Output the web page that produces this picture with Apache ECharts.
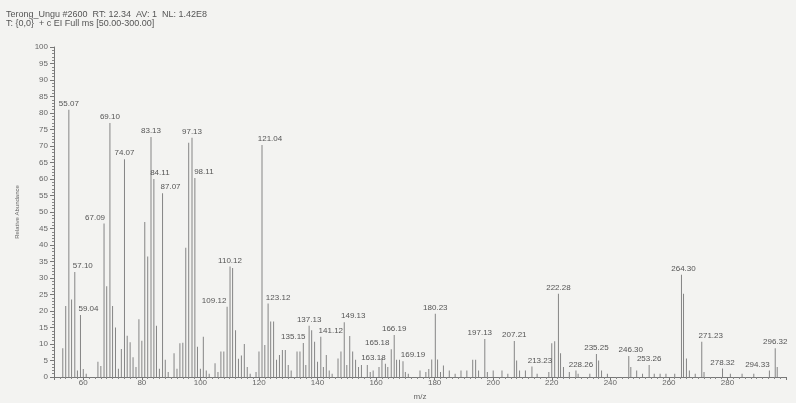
<!DOCTYPE html>
<html>
<head>
<meta charset="utf-8">
<script src="https://cdn.jsdelivr.net/npm/echarts@6/dist/echarts.min.js"></script>
<style>
    html, body { margin: 0; padding: 0; background: #f3f3f1; }
    #spec { width: 796px; height: 403px; }
</style>
</head>
<body>
<div id="spec"></div>
<script>
// m/z of every peak and its relative abundance (%)
var peakMz = [
    53, 54, 55.07, 56, 57.10, 58, 59.04, 60, 61, 65, 66, 67.09, 68, 69.10, 70, 71, 72, 73, 74.07, 75,
    76, 77, 78, 79, 80, 81, 82, 83.13, 84.11, 85, 86, 87.07, 88, 89, 91, 92, 93, 94, 95, 96,
    97.13, 98.11, 99, 100, 101, 102, 103, 105, 106, 107, 108, 109.12, 110.12, 111, 112, 113, 114, 115, 116, 117,
    119, 120, 121.04, 122, 123.12, 124, 125, 126, 127, 128, 129, 130, 131, 133, 134, 135.15, 136, 137.13, 138, 139,
    140, 141.12, 142, 143, 144, 145, 147, 148, 149.13, 150, 151, 152, 153, 154, 155, 157, 158, 159, 161, 162,
    163.18, 164, 165.18, 166.19, 167, 168, 169.19, 170, 171, 175, 177, 178, 179, 180.23, 181, 182, 183, 185, 187, 189,
    191, 193, 194, 195, 197.13, 198, 200, 203, 205, 207.21, 208, 209, 211, 213.23, 215, 219, 220, 221, 222.28, 223,
    224, 226, 228.26, 229, 233, 235.25, 236, 237, 239, 246.30, 247, 249, 251, 253.26, 255, 257, 259, 262, 264.30, 265,
    266, 267, 269, 271.23, 272, 278.32, 281, 285, 289, 294.33, 296.32, 297
];
var peakAbund = [
    8.7, 21.5, 81, 23.5, 31.8, 2, 18.8, 2.4, 1, 4.6, 3.3, 46.5, 27.5, 77, 21.5, 15, 2.5, 8.5, 66, 12.5,
    10.5, 6, 3, 17.5, 11, 47, 36.5, 72.7, 60, 15.5, 2.5, 55.7, 5.2, 1.5, 7.2, 2.5, 10.2, 10.4, 39.2, 71,
    72.5, 60.3, 9.2, 2.5, 12.2, 2, 1, 4.2, 1.5, 7.7, 7.7, 21.3, 33.5, 33, 14.2, 5.5, 6.5, 10, 3, 1,
    1.5, 7.7, 70.3, 9.7, 22.3, 16.8, 16.8, 5.2, 6.7, 8.2, 8.2, 3.6, 2, 7.7, 7.7, 10.3, 3.6, 15.5, 14.2, 10.7,
    4.6, 12.2, 3, 6.7, 2, 1, 5.6, 7.7, 16.6, 3.6, 12.4, 7.7, 5.2, 3, 3.6, 3.6, 1.5, 2, 3, 5.7,
    4, 3, 8.4, 12.7, 5.2, 5.2, 4.8, 1.5, 1, 2, 1.5, 2.4, 5.3, 19.2, 5.3, 1.5, 3.5, 2, 1, 2,
    2, 5.2, 5.2, 2, 11.5, 1.5, 2, 2, 1, 10.9, 5, 2, 2, 3.2, 1, 1.5, 10.2, 10.8, 25.2, 7.2,
    3, 1.5, 2, 1, 1, 7, 5, 2, 1, 6.4, 3, 2, 1, 3.6, 1, 1, 1, 1, 31, 25.2,
    5.6, 2, 1, 10.7, 1.5, 2.6, 1, 1, 1, 2, 8.7, 3
];
// peaks that carry an m/z label
var labeledMz = [
    55.07, 57.10, 59.04, 67.09, 69.10, 74.07, 83.13, 84.11, 87.07, 97.13, 98.11, 109.12, 110.12,
    121.04, 123.12, 135.15, 137.13, 141.12, 149.13, 163.18, 165.18, 166.19, 169.19, 180.23, 197.13,
    207.21, 213.23, 222.28, 228.26, 235.25, 246.30, 253.26, 264.30, 271.23, 278.32, 294.33, 296.32
];

// sideways shift of crowded labels (px)
var labelShift = {
    57.10: 8, 59.04: 8, 67.09: -9, 84.11: 6, 87.07: 8, 98.11: 9, 109.12: -13, 121.04: 8,
    123.12: 10, 135.15: -10, 141.12: 10, 149.13: 9, 163.18: -12, 165.18: -14, 169.19: 10,
    197.13: -5, 213.23: 8, 228.26: 5, 246.30: 2, 264.30: 2, 271.23: 9, 294.33: -12
};

var peaks = [];
for (var i = 0; i < peakMz.length; i++) {
    var item = { value: [peakMz[i], peakAbund[i]] };
    if (labeledMz.indexOf(peakMz[i]) >= 0) {
        item.label = { show: true, offset: [labelShift[peakMz[i]] || 0, 0] };
    }
    peaks.push(item);
}

var mychart = echarts.init(document.getElementById('spec'));
var grey = '#666';
var option = {
    backgroundColor: '#f3f3f1',
    animation: false,
    textStyle: { fontFamily: 'Liberation Sans, Arial, sans-serif' },
    title: {
        text: 'Terong_Ungu #2600  RT: 12.34  AV: 1  NL: 1.42E8\nT: {0,0}  + c EI Full ms [50.00-300.00]',
        left: 6,
        top: 10,
        padding: 0,
        textStyle: { fontSize: 9, fontWeight: 'normal', color: '#555', lineHeight: 9 }
    },
    grid: { left: 54, right: 10, top: 47, bottom: 26, outerBoundsMode: 'none' },
    xAxis: {
        type: 'value',
        min: 50,
        max: 300,
        splitNumber: 12,
        name: 'm/z',
        nameLocation: 'middle',
        nameGap: 16,
        nameMoveOverlap: false,
        nameTextStyle: { fontSize: 8, color: grey },
        axisLine: { lineStyle: { color: '#777', width: 1 } },
        axisTick: { length: 3, lineStyle: { color: '#777' } },
        minorTick: { show: true, splitNumber: 10, length: 2, lineStyle: { color: '#888' } },
        axisLabel: { fontSize: 8, color: grey, margin: 2, showMinLabel: false, showMaxLabel: false },
        splitLine: { show: false }
    },
    yAxis: {
        type: 'value',
        min: 0,
        max: 100,
        interval: 5,
        name: 'Relative Abundance',
        nameLocation: 'middle',
        nameGap: 34,
        nameMoveOverlap: false,
        nameTextStyle: { fontSize: 6, color: grey },
        axisLine: { show: true, lineStyle: { color: '#777', width: 1 } },
        axisTick: { show: true, length: 4, lineStyle: { color: '#777' } },
        minorTick: { show: true, splitNumber: 5, length: 2, lineStyle: { color: '#888' } },
        axisLabel: { fontSize: 8, color: grey, margin: 6 },
        splitLine: { show: false }
    },
    series: [
        {
            type: 'bar',
            barWidth: 1,
            itemStyle: { color: '#858585' },
            label: {
                show: false,
                position: 'top',
                distance: 2,
                fontSize: 8,
                color: '#555',
                formatter: function (p) { return p.value[0].toFixed(2); }
            },
            data: peaks
        }
    ]
};
mychart.setOption(option);
</script>
</body>
</html>
